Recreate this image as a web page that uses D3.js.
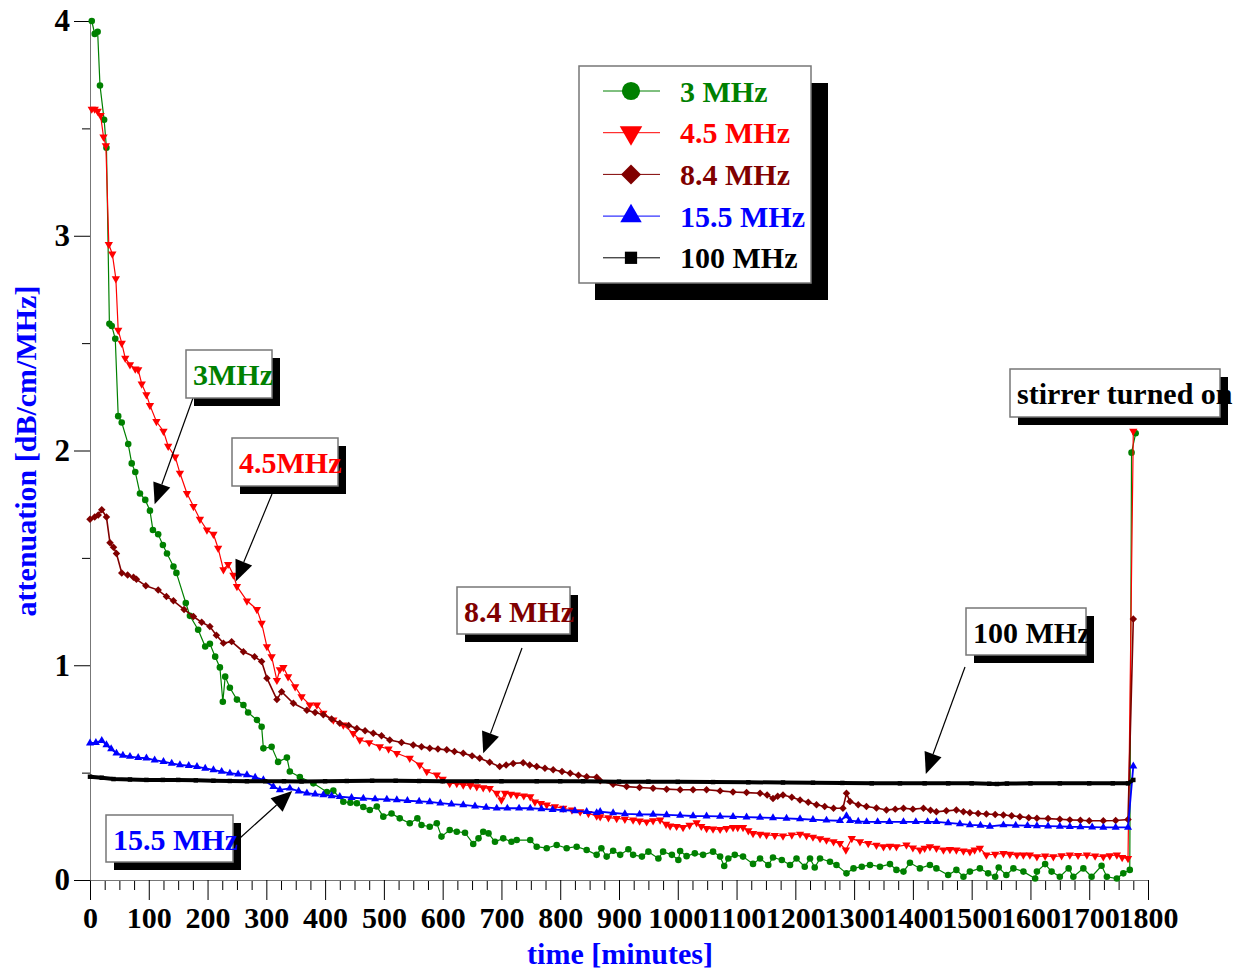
<!DOCTYPE html>
<html lang="en">
<head>
<meta charset="UTF-8">
<title>Attenuation vs time</title>
<script src="https://d3js.org/d3.v7.min.js"></script>
<style>
  body { margin: 0; background: #fff; }
  text { font-family: "Liberation Serif", "Times New Roman", serif; font-weight: bold; }
</style>
</head>
<body>
<script>
// ---- data: [time in minutes, attenuation dB/cm/MHz] ----
const xTicks = [0, 100, 200, 300, 400, 500, 600, 700, 800, 900, 1000, 1100, 1200, 1300, 1400, 1500, 1600, 1700, 1800];
const yTicks = [0, 1, 2, 3, 4];

const mhz3 = [[3,4.00],[8,3.94],[13,3.95],[17,3.70],[24,3.54],[28,3.41],[33,2.59],[37,2.58],[43,2.52],[48,2.16],[54,2.13],[65,2.03],[71,1.94],[77,1.90],[85,1.80],[94,1.77],[102,1.72],[107,1.63],[116,1.61],[124,1.56],[131,1.52],[142,1.46],[147,1.43],[163,1.29],[170,1.23],[184,1.165],[196,1.087],[204,1.10],[213,1.04],[221,0.99],[226,0.83],[230,0.947],[238,0.895],[250,0.84],[261,0.815],[269,0.78],[284,0.745],[292,0.714],[295,0.613],[309,0.62],[320,0.55],[335,0.57],[340,0.505],[357,0.48],[380,0.45],[403,0.41],[414,0.416],[431,0.364],[443,0.36],[454,0.357],[465,0.34],[476,0.326],[488,0.342],[499,0.295],[513,0.31],[527,0.287],[544,0.264],[557,0.287],[564,0.256],[578,0.248],[590,0.264],[598,0.202],[612,0.233],[624,0.225],[638,0.22],[652,0.168],[661,0.194],[669,0.225],[678,0.217],[689,0.178],[703,0.194],[717,0.178],[726,0.186],[749,0.186],[760,0.155],[777,0.148],[794,0.163],[811,0.148],[828,0.155],[845,0.14],[862,0.117],[870,0.148],[879,0.109],[890,0.136],[902,0.117],[916,0.143],[924,0.117],[939,0.109],[950,0.132],[967,0.10],[975,0.132],[990,0.117],[1001,0.093],[1004,0.135],[1015,0.111],[1029,0.124],[1043,0.117],[1060,0.132],[1072,0.109],[1079,0.065],[1086,0.10],[1097,0.117],[1111,0.109],[1128,0.075],[1140,0.10],[1154,0.07],[1162,0.105],[1177,0.093],[1191,0.07],[1202,0.10],[1216,0.062],[1225,0.10],[1233,0.058],[1242,0.10],[1259,0.085],[1270,0.07],[1287,0.031],[1299,0.054],[1313,0.062],[1327,0.07],[1344,0.062],[1361,0.074],[1372,0.047],[1384,0.039],[1395,0.08],[1412,0.054],[1429,0.07],[1440,0.054],[1460,0.023],[1474,0.047],[1486,0.015],[1497,0.039],[1514,0.054],[1528,0.031],[1540,0.015],[1546,0.058],[1559,0.023],[1571,0.054],[1588,0.039],[1608,0.007],[1611,0.039],[1625,0.074],[1636,0.039],[1650,0.015],[1665,0.054],[1673,0.015],[1690,0.054],[1704,0.015],[1721,0.066],[1730,0.015],[1747,0.007],[1758,0.031],[1769,0.047],[1772,1.99],[1779,2.08]];

const mhz45 = [[3,3.59],[8,3.59],[13,3.58],[18,3.56],[23,3.46],[27,3.42],[32,2.96],[38,2.915],[44,2.80],[48,2.56],[54,2.50],[60,2.43],[68,2.40],[77,2.38],[82,2.376],[88,2.31],[96,2.26],[102,2.21],[113,2.135],[125,2.09],[133,2.02],[145,1.97],[153,1.895],[165,1.80],[176,1.74],[187,1.68],[199,1.63],[210,1.61],[218,1.545],[227,1.445],[235,1.47],[244,1.42],[250,1.367],[267,1.30],[284,1.26],[292,1.196],[301,1.087],[309,1.04],[318,0.93],[323,0.98],[329,0.99],[337,0.947],[349,0.90],[360,0.854],[374,0.815],[386,0.815],[397,0.777],[414,0.745],[431,0.722],[448,0.683],[459,0.652],[475,0.64],[493,0.621],[508,0.61],[522,0.59],[544,0.567],[561,0.536],[573,0.505],[590,0.489],[600,0.47],[612,0.45],[624,0.45],[635,0.443],[647,0.44],[658,0.435],[669,0.43],[680,0.427],[692,0.404],[700,0.373],[706,0.404],[716,0.40],[726,0.396],[738,0.392],[749,0.388],[757,0.364],[767,0.357],[777,0.35],[791,0.342],[805,0.334],[820,0.326],[834,0.318],[848,0.31],[862,0.298],[868,0.295],[882,0.29],[896,0.287],[910,0.283],[924,0.28],[935,0.275],[947,0.271],[958,0.276],[970,0.28],[980,0.26],[987,0.252],[998,0.25],[1009,0.245],[1020,0.255],[1032,0.267],[1040,0.25],[1049,0.24],[1060,0.238],[1072,0.236],[1083,0.24],[1094,0.245],[1102,0.245],[1111,0.245],[1120,0.23],[1128,0.217],[1140,0.213],[1151,0.21],[1165,0.208],[1179,0.205],[1194,0.21],[1208,0.214],[1219,0.206],[1230,0.20],[1242,0.193],[1253,0.186],[1265,0.178],[1276,0.17],[1286,0.14],[1296,0.194],[1310,0.178],[1324,0.17],[1338,0.162],[1350,0.155],[1361,0.158],[1372,0.155],[1389,0.163],[1400,0.15],[1412,0.14],[1420,0.148],[1429,0.155],[1440,0.148],[1452,0.14],[1463,0.142],[1474,0.14],[1486,0.135],[1497,0.132],[1505,0.14],[1514,0.148],[1525,0.117],[1540,0.12],[1554,0.124],[1565,0.12],[1577,0.117],[1588,0.117],[1599,0.117],[1611,0.109],[1625,0.112],[1639,0.109],[1653,0.113],[1667,0.117],[1681,0.115],[1696,0.117],[1710,0.112],[1724,0.109],[1735,0.113],[1747,0.117],[1756,0.105],[1766,0.10],[1775,2.09]];

const mhz84 = [[0,1.68],[8,1.69],[14,1.70],[20,1.724],[28,1.69],[34,1.57],[40,1.55],[45,1.52],[54,1.43],[64,1.42],[74,1.41],[79,1.40],[95,1.37],[116,1.35],[130,1.32],[142,1.30],[160,1.26],[176,1.227],[190,1.20],[204,1.18],[215,1.14],[227,1.103],[241,1.11],[261,1.063],[280,1.04],[292,1.017],[301,0.94],[318,0.84],[326,0.877],[346,0.823],[369,0.79],[383,0.78],[397,0.77],[411,0.75],[425,0.73],[440,0.72],[454,0.706],[468,0.695],[482,0.683],[496,0.672],[510,0.652],[530,0.64],[550,0.629],[564,0.62],[578,0.614],[592,0.61],[607,0.606],[620,0.598],[635,0.59],[650,0.578],[663,0.567],[680,0.548],[697,0.528],[708,0.535],[720,0.543],[737,0.546],[748,0.535],[760,0.528],[774,0.52],[788,0.513],[803,0.505],[817,0.497],[831,0.488],[845,0.481],[862,0.478],[868,0.462],[890,0.446],[913,0.435],[935,0.431],[958,0.427],[981,0.423],[1004,0.42],[1026,0.42],[1049,0.42],[1072,0.415],[1094,0.41],[1117,0.407],[1140,0.404],[1152,0.396],[1162,0.38],[1170,0.39],[1179,0.396],[1194,0.385],[1208,0.373],[1222,0.362],[1236,0.35],[1250,0.342],[1265,0.334],[1281,0.334],[1287,0.404],[1293,0.365],[1307,0.35],[1321,0.342],[1338,0.335],[1355,0.326],[1370,0.33],[1384,0.334],[1400,0.33],[1418,0.334],[1430,0.325],[1440,0.318],[1457,0.322],[1474,0.326],[1486,0.318],[1497,0.313],[1511,0.31],[1525,0.307],[1540,0.305],[1554,0.303],[1568,0.299],[1582,0.295],[1597,0.29],[1611,0.287],[1630,0.286],[1650,0.283],[1667,0.28],[1685,0.278],[1700,0.276],[1724,0.276],[1745,0.277],[1766,0.282],[1775,1.215]];

const mhz155 = [[0,0.637],[10,0.64],[20,0.649],[28,0.629],[36,0.61],[45,0.59],[56,0.58],[68,0.575],[82,0.57],[96,0.567],[110,0.558],[125,0.551],[139,0.543],[153,0.536],[168,0.532],[182,0.528],[196,0.52],[210,0.513],[224,0.505],[238,0.497],[252,0.493],[267,0.489],[281,0.478],[295,0.466],[312,0.435],[323,0.42],[340,0.427],[355,0.414],[369,0.404],[383,0.40],[397,0.396],[411,0.392],[425,0.388],[445,0.383],[465,0.38],[485,0.377],[505,0.375],[522,0.373],[540,0.369],[560,0.366],[578,0.364],[596,0.358],[615,0.353],[635,0.35],[655,0.344],[674,0.338],[692,0.334],[710,0.334],[730,0.334],[749,0.334],[768,0.331],[787,0.328],[805,0.326],[825,0.322],[845,0.318],[862,0.313],[868,0.318],[890,0.312],[910,0.308],[935,0.306],[958,0.305],[981,0.303],[1004,0.301],[1026,0.298],[1049,0.297],[1072,0.296],[1094,0.295],[1117,0.293],[1140,0.291],[1162,0.289],[1185,0.287],[1208,0.284],[1230,0.281],[1253,0.278],[1276,0.276],[1287,0.298],[1293,0.276],[1307,0.273],[1321,0.271],[1340,0.271],[1360,0.271],[1384,0.271],[1405,0.271],[1425,0.271],[1440,0.271],[1460,0.266],[1480,0.261],[1497,0.257],[1515,0.254],[1531,0.25],[1554,0.256],[1575,0.254],[1595,0.253],[1611,0.252],[1630,0.251],[1650,0.25],[1667,0.248],[1685,0.247],[1705,0.246],[1724,0.245],[1745,0.245],[1766,0.245],[1775,0.53]];

const mhz100 = [[0,0.481],[20,0.476],[40,0.47],[68,0.468],[96,0.466],[124,0.466],[150,0.466],[180,0.464],[210,0.462],[238,0.461],[267,0.46],[298,0.46],[330,0.46],[360,0.459],[400,0.46],[437,0.461],[480,0.462],[520,0.462],[560,0.461],[600,0.46],[658,0.46],[700,0.46],[760,0.46],[800,0.46],[839,0.46],[900,0.458],[950,0.458],[1000,0.457],[1060,0.456],[1120,0.455],[1179,0.454],[1230,0.453],[1280,0.452],[1330,0.45],[1378,0.45],[1420,0.45],[1460,0.45],[1500,0.45],[1530,0.448],[1543,0.447],[1560,0.449],[1600,0.45],[1650,0.45],[1700,0.45],[1740,0.45],[1766,0.45],[1775,0.466]];

const seriesNames = ["3 MHz", "4.5 MHz", "8.4 MHz", "15.5 MHz", "100 MHz"];
const seriesData = [mhz3, mhz45, mhz84, mhz155, mhz100];

// styles
const colors = ["#008000", "#ff0000", "#800000", "#0000ff", "#000000"];
const symbols = [d3.symbolCircle, d3.symbolTriangle, d3.symbolSquare, d3.symbolTriangle, d3.symbolSquare];
const rotations = [0, 180, 45, 0, 0];
const plotSizes = [34, 30, 28, 28, 20];
const legendSizes = [260, 220, 200, 200, 150];
const lineWidths = [1.2, 1.2, 1.6, 1.8, 4];

// annotations: text, box (px), arrow start (px), arrow tip (data units)
const annoText = ["3MHz", "4.5MHz", "8.4 MHz", "100 MHz", "15.5 MHz", "stirrer turned on"];
const annoColor = ["#008000", "#ff0000", "#800000", "#000000", "#0000ff", "#000000"];
const annoBox = [[186,350,86,48],[232,438,106,48],[457,587,113,47],[966,608,120,47],[106,815,127,47],[1010,369,210,48]];
const annoFrom = [[193,398],[272,494],[522,648],[965,667],[240,838],null];
const annoTip = [[110,1.75],[248,1.39],[669,0.59],[1422,0.494],[344,0.415],null];

const W = 1259, H = 971;
const svg = d3.select("body").append("svg")
  .attr("width", W).attr("height", H);

const x = d3.scaleLinear().domain([0, 1800]).range([90, 1148]);
const y = d3.scaleLinear().domain([0, 4]).range([880, 21]);

// x axis: major + minor ticks
const minorX = d3.range(0, 1801, 25).filter(d => d % 100 !== 0);
svg.append("g").attr("transform", "translate(0,880)")
  .call(d3.axisBottom(x).tickValues(minorX).tickSize(10).tickSizeOuter(0).tickFormat(""))
  .call(g => g.select(".domain").remove());
const gx = svg.append("g").attr("transform", "translate(0,880)")
  .call(d3.axisBottom(x).tickValues(xTicks).tickSize(20).tickSizeOuter(0).tickPadding(7).tickFormat(d3.format("d")));
gx.select(".domain").attr("stroke", "#777");
gx.selectAll("text").attr("font-size", 30).attr("fill", "#000");

// y axis
const minorY = [0.5, 1.5, 2.5, 3.5];
svg.append("g").attr("transform", "translate(90,0)")
  .call(d3.axisLeft(y).tickValues(minorY).tickSize(8).tickSizeOuter(0).tickFormat(""))
  .call(g => g.select(".domain").remove());
const gy = svg.append("g").attr("transform", "translate(90,0)")
  .call(d3.axisLeft(y).tickValues(yTicks).tickSize(16).tickSizeOuter(0).tickPadding(4).tickFormat(d3.format("d")));
gy.select(".domain").attr("stroke", "#777");
gy.selectAll("text").attr("font-size", 31).attr("fill", "#000");

svg.append("text")
  .attr("x", 620).attr("y", 964)
  .attr("text-anchor", "middle")
  .attr("font-size", 30).attr("fill", "#0000ff")
  .text("time [minutes]");

svg.append("text")
  .attr("transform", "translate(36,451) rotate(-90)")
  .attr("text-anchor", "middle")
  .attr("font-size", 30).attr("fill", "#0000ff")
  .text("attenuation [dB/cm/MHz]");

// series
const line = d3.line().x(d => x(d[0])).y(d => y(d[1]));
seriesData.forEach((data, i) => {
  const g = svg.append("g");
  g.append("path")
    .datum(data)
    .attr("fill", "none")
    .attr("stroke", colors[i])
    .attr("stroke-width", lineWidths[i])
    .attr("d", line);
  g.selectAll("path.mk")
    .data(data)
    .enter().append("path")
    .attr("class", "mk")
    .attr("d", d3.symbol().type(symbols[i]).size(plotSizes[i]))
    .attr("fill", colors[i])
    .attr("transform", d => `translate(${x(d[0])},${y(d[1])}) rotate(${rotations[i]})`);
});

// annotation boxes with drop shadow and arrows
annoText.forEach((t, i) => {
  const [bx, by, bw, bh] = annoBox[i];
  const g = svg.append("g");
  if (annoTip[i]) {
    const [sx, sy] = annoFrom[i];
    const tx = x(annoTip[i][0]), ty = y(annoTip[i][1]);
    const dx = tx - sx, dy = ty - sy, len = Math.hypot(dx, dy);
    const ux = dx / len, uy = dy / len;
    const L = 21, hw = 9;
    const cx = tx - ux * L, cy = ty - uy * L;
    g.append("line")
      .attr("x1", sx).attr("y1", sy).attr("x2", cx).attr("y2", cy)
      .attr("stroke", "#000").attr("stroke-width", 1.2);
    g.append("polygon")
      .attr("points", [[tx, ty], [cx - uy * hw, cy + ux * hw], [cx + uy * hw, cy - ux * hw]].join(" "))
      .attr("fill", "#000");
  }
  g.append("rect").attr("x", bx + 8).attr("y", by + 8).attr("width", bw).attr("height", bh).attr("fill", "#000");
  g.append("rect").attr("x", bx).attr("y", by).attr("width", bw).attr("height", bh)
    .attr("fill", "#fff").attr("stroke", "#777").attr("stroke-width", 1.5);
  g.append("text")
    .attr("x", bx + 7).attr("y", by + 35)
    .attr("font-size", 30).attr("fill", annoColor[i])
    .text(t);
});

// legend
const lg = svg.append("g");
lg.append("rect").attr("x", 595).attr("y", 83).attr("width", 233).attr("height", 217).attr("fill", "#000");
lg.append("rect").attr("x", 579).attr("y", 66).attr("width", 232).attr("height", 217)
  .attr("fill", "#fff").attr("stroke", "#777").attr("stroke-width", 1.5);
seriesNames.forEach((n, i) => {
  const ly = 91 + i * 41.7;
  lg.append("line").attr("x1", 603).attr("x2", 660).attr("y1", ly).attr("y2", ly)
    .attr("stroke", colors[i]).attr("stroke-width", 1);
  lg.append("path")
    .attr("d", d3.symbol().type(symbols[i]).size(legendSizes[i]))
    .attr("fill", colors[i])
    .attr("transform", `translate(631,${ly}) rotate(${rotations[i]})`);
  lg.append("text")
    .attr("x", 680).attr("y", ly).attr("dy", "0.35em")
    .attr("font-size", 30).attr("fill", colors[i])
    .text(n);
});
</script>
</body>
</html>
